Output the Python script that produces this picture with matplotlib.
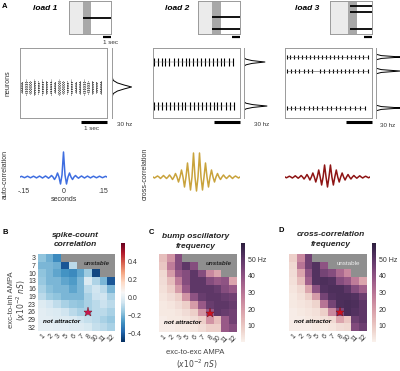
import numpy as np
import matplotlib
matplotlib.use("Agg")
import matplotlib.pyplot as plt
import seaborn as sns
from matplotlib.colors import Normalize

plt.rcParams['font.family'] = ['Liberation Sans', 'DejaVu Sans']
plt.rcParams['mathtext.fontset'] = 'dejavusans'

nan = np.nan

# ---------------- data ----------------
loads = ["load 1", "load 2", "load 3"]

# top insets (time in s, neuron index 0..1000)
inset_duration = 5.25
inset_cue = [(1.75, 2.75), (1.75, 2.85), (2.25, 3.35)]
inset_bump_start = [1.75, 1.75, 2.5]
inset_bumps = [[500], [515, 150], [850, 670, 150]]

# rasters
raster_duration = 3.35
load1_center = 443
load1_burst_times = [0.07, 0.23, 0.38, 0.55, 0.70, 0.86, 1.02, 1.18, 1.34, 1.50,
                     1.66, 1.82, 1.98, 2.14, 2.30, 2.46, 2.62, 2.78, 2.94, 3.10]
load1_burst_half = [90, 110, 100, 120, 95, 115, 105, 110, 90, 120,
                    100, 95, 110, 85, 100, 115, 95, 105, 90, 100]

load2_centers = [800, 171]
load2_times = [
    [0.05, 0.20, 0.33, 0.47, 0.62, 0.80, 0.95, 1.10, 1.26, 1.40, 1.55,
     1.70, 1.86, 2.00, 2.15, 2.30, 2.45, 2.60, 2.75, 2.92, 3.08],
    [0.05, 0.18, 0.33, 0.50, 0.64, 0.80, 0.95, 1.10, 1.25, 1.42, 1.58,
     1.72, 1.88, 2.03, 2.18, 2.33, 2.48, 2.63, 2.80, 2.95, 3.12],
]
load3_centers = [871, 671, 143]
load3_times = [
    [0.06, 0.20, 0.35, 0.50, 0.66, 0.80, 0.95, 1.12, 1.27, 1.42, 1.58,
     1.75, 1.90, 2.05, 2.20, 2.38, 2.55, 2.70, 2.86, 3.02, 3.18],
    [0.06, 0.22, 0.38, 0.55, 0.72, 0.90, 1.05, 1.35, 1.52, 1.68, 1.84,
     2.00, 2.15, 2.30, 2.45, 2.62, 2.80, 3.00, 3.20],
    [0.06, 0.22, 0.40, 0.58, 0.75, 0.92, 1.08, 1.25, 1.42, 1.60, 1.78,
     1.95, 2.12, 2.30, 2.50, 2.70, 2.90, 3.08],
]

# firing-rate profiles (neuron, Hz)
rate_profiles = [
    [([300, 350, 385, 415, 443, 471, 501, 536, 586],
      [0, 2, 8, 18, 29, 18, 8, 2, 0])],
    [([740, 760, 780, 800, 820, 840, 860], [0, 3, 12, 31, 12, 3, 0]),
     ([111, 131, 151, 171, 191, 211, 231], [0, 3, 13, 34, 13, 3, 0])],
    [([831, 851, 871, 891, 911], [0, 8, 38, 8, 0]),
     ([631, 651, 671, 691, 711], [0, 8, 36, 8, 0]),
     ([103, 123, 143, 163, 183], [0, 8, 38, 8, 0])],
]

# correlation curves: lag grid (s) and values
lags = np.linspace(-0.165, 0.165, 59)
corr_load1 = [0, 0.7, 0, -0.7, 0, 0.8, 0, -0.8, 0, 0.8, 0, -0.9, 0, 0.9, 0, -1, 0, 1, 0,
              -1.2, 0, 1.5, 0, -2.5, 0, 4, 0, -7, 2, 25, 2, -7, 0, 4, 0, -2.5, 0, 1.5,
              0, -1.2, 0, 1, 0, -1, 0, 0.9, 0, -0.9, 0, 0.8, 0, -0.8, 0, 0.8, 0, -0.7,
              0, 0.7, 0]
corr_load2 = [0, -1, 0, 1, 0, -1.5, 0, 1.5, 0, -1.5, 0, 2, 0, -2.5, 0, 3.5, 0, -5, 0, 7, 0,
              -10, 0, 14, 0, -13, 0, 24, 0, -14, 0, 24, 0, -13, 0, 14, 0, -10, 0, 7, 0,
              -5, 0, 3.5, 0, -2.5, 0, 2, 0, -1.5, 0, 1.5, 0, -1.5, 0, 1, 0, -1, 0]
corr_load3 = [0, -0.8, 0, 0.8, 0, -1, 0, 1.2, 0, -1.2, 0, 1.5, 0, -2, 0, 2.5, 0, -3, 0, 4, 0,
              -5, 0, 7, 0, -8, 0, 12, 0, -10, 0, 12, 0, -8, 0, 7, 0, -5, 0, 4, 0, -3, 0,
              2.5, 0, -2, 0, 1.5, 0, -1.2, 0, 1.2, 0, -1, 0, 0.8, 0, -0.8, 0]
corr_colors = ["#3f6ee0", "#c9a33c", "#8e1414"]

# heatmaps
ee_labels = [1, 2, 3, 5, 6, 7, 8, 10, 11, 12]
ei_labels = [3, 7, 10, 13, 16, 19, 23, 26, 29, 32]
star_cell = (6, 7)  # (col, row)

spike_count_corr = [
    [-0.17, -0.22, -0.30, nan, nan, nan, nan, nan, nan, nan],
    [-0.20, -0.20, -0.22, -0.42, -0.10, nan, nan, nan, nan, nan],
    [-0.17, -0.20, -0.24, -0.28, -0.30, -0.24, -0.15, -0.45, nan, nan],
    [-0.16, -0.20, -0.20, -0.24, -0.26, -0.20, -0.03, -0.12, -0.20, -0.42],
    [-0.13, -0.18, -0.20, -0.20, -0.24, -0.20, -0.10, -0.06, -0.10, -0.20],
    [-0.10, -0.15, -0.17, -0.20, -0.20, -0.20, -0.13, -0.07, -0.06, -0.13],
    [-0.02, -0.05, -0.09, -0.13, -0.16, -0.17, -0.13, -0.10, -0.07, -0.10],
    [-0.01, -0.02, -0.03, -0.06, -0.10, -0.13, -0.13, -0.10, -0.10, -0.13],
    [-0.01, -0.01, -0.02, -0.02, -0.03, -0.06, -0.08, -0.10, -0.13, -0.16],
    [0.00, 0.00, -0.01, -0.01, -0.02, -0.02, -0.04, -0.08, -0.10, -0.13],
]
bump_freq = [
    [12, 22, 42, nan, nan, nan, nan, nan, nan, nan],
    [10, 28, 42, 50, 42, nan, nan, nan, nan, nan],
    [6, 20, 38, 42, 50, 42, 25, 18, nan, nan],
    [5, 12, 28, 42, 50, 50, 42, 38, 40, 18],
    [4, 8, 20, 38, 50, 50, 50, 48, 42, 38],
    [3, 5, 8, 22, 40, 48, 50, 50, 48, 46],
    [2, 3, 5, 8, 20, 38, 48, 50, 50, 48],
    [2, 2, 3, 5, 8, 22, 38, 50, 48, 46],
    [1, 2, 2, 3, 5, 8, 22, 12, 38, 46],
    [1, 1, 2, 2, 3, 5, 8, 8, 38, 42],
]
xcorr_freq = [
    [8, 25, 46, nan, nan, nan, nan, nan, nan, nan],
    [6, 30, 46, 52, 40, nan, nan, nan, nan, nan],
    [5, 18, 40, 52, 45, 42, 33, 25, nan, nan],
    [4, 12, 36, 52, 53, 52, 42, 38, 28, 18],
    [3, 6, 18, 40, 52, 53, 53, 50, 42, 36],
    [2, 4, 8, 20, 45, 52, 53, 53, 52, 47],
    [2, 3, 4, 7, 30, 45, 53, 54, 53, 50],
    [1, 2, 3, 4, 8, 25, 43, 54, 52, 50],
    [1, 1, 2, 3, 4, 6, 18, 10, 47, 50],
    [1, 1, 1, 2, 2, 3, 5, 6, 43, 47],
]

# ---------------- figure ----------------
W, H = 400, 371
fig = plt.figure(figsize=(W / 100, H / 100), dpi=100)
TXT = "#333333"
SPINE = "#9a9a9a"


def axp(x0, y0, x1, y1):
    return fig.add_axes([x0 / W, 1 - y1 / H, (x1 - x0) / W, (y1 - y0) / H])


def txt(x, y, s, **kw):
    kw.setdefault("color", TXT)
    kw.setdefault("ha", "center")
    kw.setdefault("va", "center")
    fig.text(x / W, 1 - y / H, s, **kw)


def style_box(ax, sides=("left", "right", "top", "bottom")):
    for k, sp in ax.spines.items():
        sp.set_visible(k in sides)
        sp.set_color(SPINE)
        sp.set_linewidth(0.7)
    ax.set_xticks([])
    ax.set_yticks([])


txt(5, 6, "A", fontsize=5.5, fontweight="bold", color="black")
title_x = [45, 177, 307]
for i, t in enumerate(loads):
    txt(title_x[i], 9, t, fontsize=6, fontweight="bold", style="italic", color="black")

# insets
inset_rects = [(69, 1, 111, 34), (198, 1, 240, 34), (330, 1, 372, 34)]
for i, r in enumerate(inset_rects):
    ax = axp(*r)
    style_box(ax)
    ax.set_xlim(0, inset_duration)
    ax.set_ylim(0, 1000)
    ax.axvspan(0, inset_cue[i][0], color="#ebebeb", lw=0)
    ax.axvspan(inset_cue[i][0], inset_cue[i][1], color="#a8a8a8", lw=0)
    ax.hlines(inset_bumps[i], inset_bump_start[i], inset_duration, color="black", lw=1.3)
    ax.plot([inset_duration - 1, inset_duration], [-0.09, -0.09], color="black", lw=1.6,
            transform=ax.get_xaxis_transform(), clip_on=False, solid_capstyle="butt")
txt(110, 42, "1 sec", fontsize=4.5)

# rasters
raster_rects = [(20, 48, 107, 118), (153, 48, 240, 118), (285, 48, 372, 118)]
hist_rects = [(112, 48, 139, 118), (244, 48, 271, 118), (376, 48, 403, 118)]
for i, r in enumerate(raster_rects):
    ax = axp(*r)
    style_box(ax)
    ax.set_xlim(0, raster_duration)
    ax.set_ylim(0, 1000)
    if i == 0:
        for t, h in zip(load1_burst_times, load1_burst_half):
            for dt in (-0.025, 0.0, 0.025):
                ax.vlines(t + dt, load1_center - h * (1 - abs(dt) * 8), load1_center + h * (1 - abs(dt) * 8),
                          color="#222222", lw=0.6, linestyles=(0, (1, 1.1)))
    elif i == 1:
        for c, ts in zip(load2_centers, load2_times):
            ax.vlines(ts, c - 55, c + 55, color="black", lw=0.8)
            ax.hlines(c, ts[0], ts[-1], color="#777777", lw=0.35)
    else:
        for c, ts in zip(load3_centers, load3_times):
            ax.vlines(ts, c - 30, c + 30, color="black", lw=0.8)
            ax.hlines(c, ts[0], ts[-1], color="#666666", lw=0.45)
    ax.plot([raster_duration - 1, raster_duration], [-0.055, -0.055], color="black", lw=2.2,
            transform=ax.get_xaxis_transform(), clip_on=False, solid_capstyle="butt")

    hx = axp(*hist_rects[i])
    style_box(hx, sides=("left",))
    hx.set_xlim(0, 40)
    hx.set_ylim(0, 1000)
    for nrn, rate in rate_profiles[i]:
        hx.plot(rate, nrn, color="black", lw=0.7)
    hx.patch.set_alpha(0)

txt(8, 83, "neurons", fontsize=5, rotation=90)
txt(92, 128, "1 sec", fontsize=4.5)
txt(125, 124, "30 hz", fontsize=4.5)
txt(262, 125, "30 hz", fontsize=4.5)
txt(388, 126, "30 hz", fontsize=4.5)

# correlations
corr_rects = [(20, 147, 107, 186), (153, 147, 240, 193), (285, 147, 370, 193)]
corr_ylims = [(-9, 30), (-16, 30), (-16, 30)]
corr_data = [corr_load1, corr_load2, corr_load3]
for i, r in enumerate(corr_rects):
    ax = axp(*r)
    for sp in ax.spines.values():
        sp.set_visible(False)
    ax.patch.set_alpha(0)
    ax.plot(lags, corr_data[i], color=corr_colors[i], lw=1.1)
    ax.set_xlim(-0.165, 0.165)
    ax.set_ylim(*corr_ylims[i])
    ax.set_yticks([])
    if i == 0:
        ax.set_xticks([-0.15, 0, 0.15])
        ax.set_xticklabels(["-.15", "0", ".15"], fontsize=5, color=TXT)
        ax.tick_params(axis="x", length=0, pad=1.5)
        ax.set_xlabel("seconds", fontsize=5, color=TXT, labelpad=0.5)
    else:
        ax.set_xticks([])
txt(5, 174, "auto-correlation", fontsize=5, rotation=90)
txt(145, 174, "cross-correlation", fontsize=5, rotation=90)

# heatmaps
hm_rects = [(38, 254, 115, 331), (159, 254, 237, 332), (289, 254, 367, 331)]
cb_rects = [(121, 243, 125, 342), (241, 243, 245, 342), (372, 243, 376, 342)]
freq_cmap = sns.cubehelix_palette(light=0.95, dark=0.15, as_cmap=True)
hm_data = [spike_count_corr, bump_freq, xcorr_freq]
hm_cmaps = [plt.get_cmap("RdBu_r"), freq_cmap, freq_cmap]
hm_norms = [Normalize(-0.5, 0.6), Normalize(0, 60), Normalize(0, 60)]
letters = [("B", 5, 232), ("C", 151, 232), ("D", 281, 231)]
titles = [("spike-count", "correlation", 75, 235, 245),
          ("bump oscillatory", "frequency", 196, 237, 246),
          ("cross-correlation", "frequency", 331, 234, 245)]
unstable_bold = [True, True, False]
star_colors = ["#c81850", "#d01020", "#d01020"]

for i in range(3):
    ax = axp(*hm_rects[i])
    M = np.ma.masked_invalid(np.array(hm_data[i], dtype=float))
    mesh = ax.pcolormesh(M, cmap=hm_cmaps[i], norm=hm_norms[i])
    ax.set_facecolor("#8f8f8f")
    ax.set_xlim(0, 10)
    ax.set_ylim(10, 0)
    for sp in ax.spines.values():
        sp.set_visible(False)
    ax.set_xticks(np.arange(10) + 0.5)
    ax.set_xticklabels([str(v) for v in ee_labels], rotation=45, fontsize=5, color=TXT,
                       ha="right", rotation_mode="anchor")
    ax.tick_params(length=0, pad=1.5)
    if i == 0:
        ax.set_yticks(np.arange(10) + 0.5)
        ax.set_yticklabels([str(v) for v in ei_labels], fontsize=5, color=TXT)
    else:
        ax.set_yticks([])
    ax.plot(star_cell[0] + 0.5, star_cell[1] + 0.5, marker="*", ms=6.5,
            color=star_colors[i], mec="#70101a", mew=0.3)
    ax.text(7.6, 1.2, "unstable", fontsize=4.5, ha="center", va="center",
            fontweight="bold" if unstable_bold[i] else "normal",
            style="italic" if unstable_bold[i] else "normal",
            color="#222222" if unstable_bold[i] else "#eeeeee")
    ax.text(3.0, 8.8, "not attractor", fontsize=4.5, ha="center", va="center",
            fontweight="bold", style="italic", color="black")

    cax = axp(*cb_rects[i])
    cb = fig.colorbar(mesh, cax=cax)
    cb.outline.set_visible(False)
    cax.tick_params(length=0, pad=2, labelsize=5, labelcolor=TXT)
    if i == 0:
        cb.set_ticks([-0.4, -0.2, 0.0, 0.2, 0.4])
        cb.set_ticklabels(["\u22120.4", "\u22120.2", "0.0", "0.2", "0.4"])
    else:
        cb.set_ticks([10, 20, 30, 40, 50])
        cb.set_ticklabels(["10", "20", "30", "40", "50 Hz"])

    L, lx, ly = letters[i]
    txt(lx, ly, L, fontsize=5.5, fontweight="bold", color="black")
    t1, t2, tx, ty1, ty2 = titles[i]
    txt(tx, ty1, t1, fontsize=6, fontweight="bold", style="italic", color="#222222")
    txt(tx, ty2, t2, fontsize=6, fontweight="bold", style="italic", color="#222222")

txt(12, 300, "exc-to-inh AMPA", fontsize=5.5, rotation=90, color="#444444")
txt(21, 300, r"$(x10^{-2}\ nS)$", fontsize=5.5, rotation=90, color="#444444")
txt(195, 353, "exc-to-exc AMPA", fontsize=5.5, color="#444444")
txt(197, 364, r"$(x10^{-2}\ nS)$", fontsize=5.5, color="#444444")

fig.savefig("out.png", dpi=100)
